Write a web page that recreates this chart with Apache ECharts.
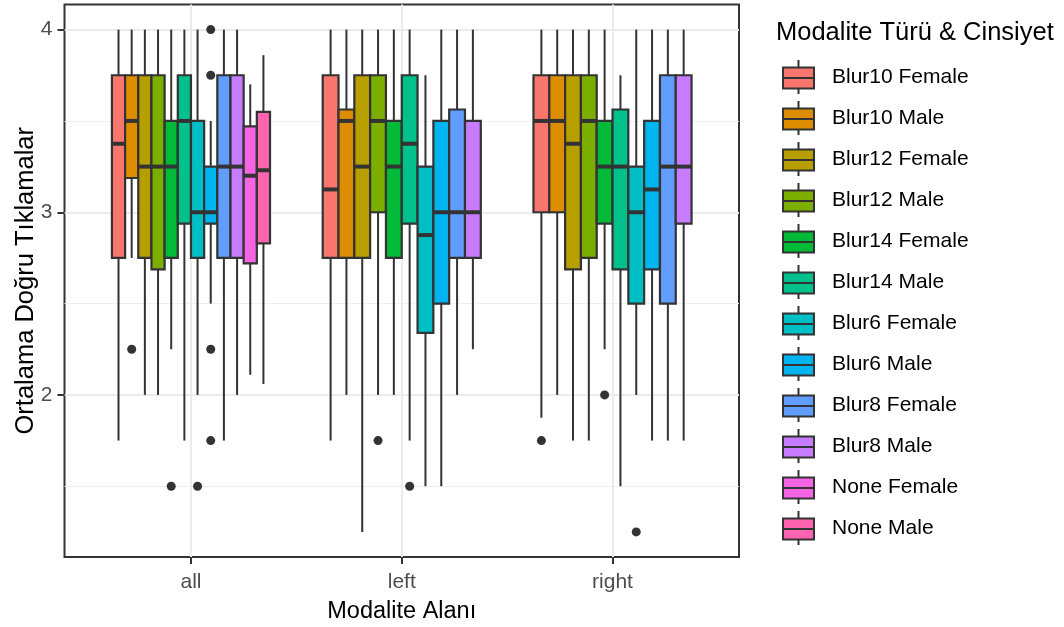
<!DOCTYPE html>
<html>
<head>
<meta charset="utf-8">
<script src="https://cdn.jsdelivr.net/npm/echarts@6/dist/echarts.min.js"></script>
<style>
html,body{margin:0;padding:0;background:#fff;}
#chart{width:1064px;height:627px;}
</style>
</head>
<body>
<div id="chart"></div>
<script>
// ---- data ----
const categories = ['all', 'left', 'right'];
const groups = ['Blur10 Female', 'Blur10 Male', 'Blur12 Female', 'Blur12 Male', 'Blur14 Female', 'Blur14 Male',
  'Blur6 Female', 'Blur6 Male', 'Blur8 Female', 'Blur8 Male', 'None Female', 'None Male'];
const palette = ['#F8766D', '#DE8C00', '#B79F00', '#7CAE00', '#00BA38', '#00C08B',
  '#00BFC4', '#00B4F0', '#619CFF', '#C77CFF', '#F564E3', '#FF64B0'];

// [lower whisker, Q1, median, Q3, upper whisker] per group
const statsAll = [
  [1.75, 2.75, 3.375, 3.75, 4],
  [2.75, 3.1875, 3.5, 3.75, 4],
  [2, 2.75, 3.25, 3.75, 4],
  [2, 2.6875, 3.25, 3.75, 4],
  [2.25, 2.75, 3.25, 3.5, 4],
  [1.75, 2.9375, 3.5, 3.75, 4],
  [2, 2.75, 3, 3.5, 4],
  [2.5, 2.9375, 3, 3.25, 3.5],
  [1.75, 2.75, 3.25, 3.75, 4],
  [2, 2.75, 3.25, 3.75, 4],
  [2.11, 2.72, 3.2, 3.47, 3.7],
  [2.06, 2.83, 3.23, 3.55, 3.86]
];
const statsLeft = [
  [1.75, 2.75, 3.125, 3.75, 4],
  [2, 2.75, 3.5, 3.5625, 4],
  [1.25, 2.75, 3.25, 3.75, 4],
  [2, 3, 3.5, 3.75, 4],
  [2, 2.75, 3.25, 3.5, 4],
  [1.75, 2.9375, 3.375, 3.75, 4],
  [1.5, 2.34, 2.875, 3.25, 3.75],
  [1.5, 2.5, 3, 3.5, 4],
  [2, 2.75, 3, 3.5625, 4],
  [2.25, 2.75, 3, 3.5, 4],
  null,
  null
];
const statsRight = [
  [1.875, 3, 3.5, 3.75, 4],
  [2, 3, 3.5, 3.75, 4],
  [1.75, 2.6875, 3.375, 3.75, 4],
  [1.75, 2.75, 3.5, 3.75, 4],
  [2.25, 2.9375, 3.25, 3.5, 4],
  [1.5, 2.6875, 3.25, 3.5625, 3.75],
  [2, 2.5, 3, 3.25, 4],
  [1.75, 2.6875, 3.125, 3.5, 4],
  [1.75, 2.5, 3.25, 3.75, 4],
  [1.75, 2.9375, 3.25, 3.75, 4],
  null,
  null
];
const outliersAll = [[], [2.25], [], [], [1.5], [], [1.5], [4, 3.75, 2.25, 1.75], [], [], [], []];
const outliersLeft = [[], [], [], [1.75], [], [1.5], [], [], [], [], [], []];
const outliersRight = [[1.75], [], [], [], [2], [], [1.25], [], [], [], [], []];
const yTicks = [2, 3, 4];
const yMinorTicks = [1.5, 2.5, 3.5];
const xTicks = [1, 2, 3];

// ---- build ----
const statsByCat = [statsAll, statsLeft, statsRight];
const outByCat = [outliersAll, outliersLeft, outliersRight];
const DODGE = 0.75;
const FONT = '"Liberation Sans", Arial, sans-serif';
const DARK = '#333333';

const series = groups.map((g, gi) => {
  const data = [];
  categories.forEach((c, ci) => {
    const stats = statsByCat[ci];
    if (!stats[gi]) return;
    const present = [];
    stats.forEach((s, i) => { if (s) present.push(i); });
    data.push({
      value: [ci + 1].concat(stats[gi], [present.indexOf(gi), present.length]),
      outliers: outByCat[ci][gi] || []
    });
  });
  return {
    type: 'custom',
    name: g,
    itemStyle: { color: palette[gi] },
    encode: { x: 0, y: [1, 2, 3, 4, 5] },
    data: data,
    renderItem: function (params, api) {
      const x = api.value(0);
      const lo = api.value(1), q1 = api.value(2), med = api.value(3), q3 = api.value(4), hi = api.value(5);
      const slot = api.value(6), n = api.value(7);
      const w = DODGE / n;
      const cx = x - DODGE / 2 + w * (slot + 0.5);
      const pw = api.size([w, 0])[0];
      const pLo = api.coord([cx, lo]), pQ1 = api.coord([cx, q1]), pMed = api.coord([cx, med]);
      const pQ3 = api.coord([cx, q3]), pHi = api.coord([cx, hi]);
      const color = api.visual('color');
      const children = [
        { type: 'line', shape: { x1: pHi[0], y1: pHi[1], x2: pQ3[0], y2: pQ3[1] }, style: { stroke: DARK, lineWidth: 2 } },
        { type: 'line', shape: { x1: pQ1[0], y1: pQ1[1], x2: pLo[0], y2: pLo[1] }, style: { stroke: DARK, lineWidth: 2 } },
        { type: 'rect', shape: { x: pQ3[0] - pw / 2, y: pQ3[1], width: pw, height: pQ1[1] - pQ3[1] }, style: { fill: color, stroke: DARK, lineWidth: 2.2 } },
        { type: 'line', shape: { x1: pMed[0] - pw / 2, y1: pMed[1], x2: pMed[0] + pw / 2, y2: pMed[1] }, style: { stroke: DARK, lineWidth: 4 } }
      ];
      data[params.dataIndex].outliers.forEach(function (o) {
        const p = api.coord([cx, o]);
        children.push({ type: 'circle', shape: { cx: p[0], cy: p[1], r: 4.5 }, style: { fill: DARK } });
      });
      return { type: 'group', children: children };
    }
  };
});

// legend key: whiskers + box + median (stroked dark, box filled with series colour)
const keyPath = 'path://M15.5,0 L15.5,7.5 M15.5,28.5 L15.5,34 M0,7.5 L31,7.5 L31,28.5 L0,28.5 Z M0,18 L31,18';

const option = {
  backgroundColor: '#ffffff',
  animation: false,
  textStyle: { fontFamily: FONT },
  title: {
    text: 'Modalite Türü & Cinsiyet',
    left: 776, top: 20, padding: 0,
    textStyle: { fontFamily: FONT, fontSize: 25.5, fontWeight: 'normal', color: '#000000' }
  },
  legend: {
    orient: 'vertical', left: 782, top: 59, padding: 0,
    itemWidth: 31, itemHeight: 34, itemGap: 5,
    selectedMode: false,
    icon: keyPath,
    itemStyle: { borderColor: DARK, borderWidth: 2 },
    textStyle: { fontFamily: FONT, fontSize: 21, lineHeight: 21, color: '#000000', padding: [0, 0, 0, 13] },
    data: groups
  },
  grid: {
    left: 64.5, top: 4.5, width: 674.5, height: 552.5,
    outerBoundsMode: 'none', containLabel: false,
    show: true, borderColor: DARK, borderWidth: 2, backgroundColor: 'transparent'
  },
  xAxis: {
    type: 'value', min: 0.4, max: 3.6,
    name: 'Modalite Alanı', nameLocation: 'middle', nameGap: 43, nameMoveOverlap: false,
    nameTextStyle: { fontFamily: FONT, fontSize: 23.5, color: '#000000' },
    axisLine: { show: false },
    axisTick: { show: true, customValues: xTicks, length: 7, lineStyle: { color: DARK, width: 2 } },
    axisLabel: {
      customValues: xTicks, margin: 15, fontFamily: FONT, fontSize: 21, color: '#4D4D4D',
      formatter: v => categories[Math.round(v) - 1]
    },
    splitLine: { show: true, lineStyle: { color: '#EBEBEB', width: 2 } }
  },
  yAxis: [
    {
      type: 'value', min: 1.1125, max: 4.1375,
      name: 'Ortalama Doğru Tıklamalar', nameLocation: 'middle', nameGap: 26, nameMoveOverlap: false,
      nameTextStyle: { fontFamily: FONT, fontSize: 25.5, color: '#000000' },
      axisLine: { show: false },
      axisTick: { show: true, customValues: yTicks, length: 7, lineStyle: { color: DARK, width: 2 } },
      axisLabel: { customValues: yTicks, margin: 12, fontFamily: FONT, fontSize: 21, color: '#4D4D4D' },
      splitLine: { show: true, lineStyle: { color: '#EBEBEB', width: 2 } }
    },
    {
      type: 'value', min: 1.1125, max: 4.1375, position: 'left',
      axisLine: { show: false },
      axisTick: { show: false, customValues: yMinorTicks },
      axisLabel: { show: false, customValues: yMinorTicks },
      splitLine: { show: true, lineStyle: { color: '#EFEFEF', width: 1 } }
    }
  ],
  series: series
};

const chart = echarts.init(document.getElementById('chart'), null, { renderer: 'canvas' });
chart.setOption(option);
</script>
</body>
</html>
